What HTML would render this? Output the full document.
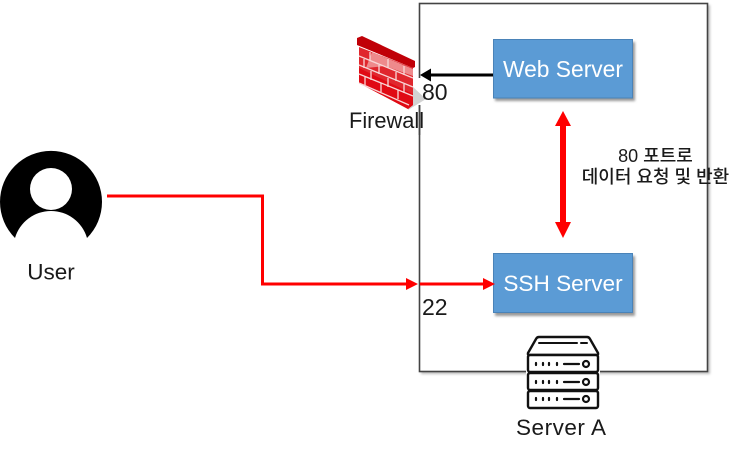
<!DOCTYPE html>
<html><head><meta charset="utf-8"><style>
html,body{margin:0;padding:0;background:#fff}
svg{display:block}
text{font-family:"Liberation Sans","Noto Sans CJK KR",sans-serif;fill:#1a1a1a}
</style></head><body>
<svg width="740" height="455" viewBox="0 0 740 455" xmlns="http://www.w3.org/2000/svg">
<defs><filter id="b" x="-10%" y="-10%" width="125%" height="130%"><feGaussianBlur stdDeviation="1.2"/></filter></defs>
<rect x="421" y="5" width="289" height="369" fill="#bbb" filter="url(#b)"/>
<rect x="419.5" y="3.5" width="288" height="368" fill="#fff" stroke="#444" stroke-width="1.6"/>
<rect x="495" y="42" width="140" height="59" fill="#999" filter="url(#b)"/>
<rect x="493.5" y="39.5" width="139" height="58.5" fill="#5b9bd5" stroke="#4a83b8"/>
<rect x="495" y="256" width="140" height="60" fill="#999" filter="url(#b)"/>
<rect x="493.5" y="253.5" width="139" height="59" fill="#5b9bd5" stroke="#4a83b8"/>
<text x="563" y="77" font-size="22.8" text-anchor="middle" style="fill:#fff">Web Server</text>
<text x="563" y="291" font-size="22.6" text-anchor="middle" style="fill:#fff">SSH Server</text>

<!-- firewall -->
<rect x="400" y="78" width="20.5" height="27" fill="#fff"/>
<polygon points="413,87 426,99 408,110" fill="#d2d2d2"/>
<polygon points="359,47 413,68 413,105 408,109 359,83" fill="#e0272e"/>
<polygon points="359,68 413,94 413,105 408,109 359,83" fill="#e00a14"/>
<polygon points="372,52 413,69 413,76 385,66 366,68" fill="#ee8a8c"/>
<g stroke="#f8d6d6" stroke-width="1.3" fill="none">
<path d="M359,56 L413,78 M359,65 L413,87 M359,74 L413,96 M359,83 L409,105"/>
<path d="M370,52 V61 M388,59 V68 M404,66 V75 M364,59 V68 M379,65 V74 M396,72 V81 M371,71 V80 M388,78 V87 M404,84 V93 M365,76 V85 M381,83 V92 M398,90 V99"/>
</g>
<polygon points="357,38 362,36 415,61 415,67 413,68 357,45" fill="#c00008"/>
<text x="349" y="128" font-size="21.8">Firewall</text>
<line x1="419.5" y1="105" x2="419.5" y2="135" stroke="#444" stroke-width="1.6"/>
<text x="422" y="100" font-size="23">80</text>
<text x="422" y="315" font-size="23">22</text>

<!-- web arrow -->
<line x1="493" y1="75" x2="428" y2="75" stroke="#000" stroke-width="3"/>
<polygon points="420,75 431,68.5 431,81.5" fill="#000"/>

<!-- double arrow -->
<line x1="563" y1="120" x2="563" y2="228" stroke="#f00" stroke-width="6"/>
<polygon points="563,111 571,126 555,126" fill="#f00"/>
<polygon points="563,238 571,222 555,222" fill="#f00"/>

<text x="655.5" y="162" font-size="18" font-weight="500" text-anchor="middle">80 포트로</text>
<text x="655.5" y="183" font-size="18" font-weight="500" text-anchor="middle">데이터 요청 및 반환</text>

<!-- user -->
<path d="M15,238 A51,51 0 1 1 87,238 A37.5,37.5 0 0 0 15,238 Z" fill="#000"/>
<circle cx="51" cy="189" r="21" fill="#fff"/>
<text x="51" y="279.5" font-size="22.5" text-anchor="middle">User</text>

<!-- red route -->
<path d="M107,196 H262.5 V284 H408" fill="none" stroke="#f00" stroke-width="3"/>
<polygon points="418,284 406,278 406,290" fill="#f00"/>
<line x1="420" y1="284" x2="486" y2="284" stroke="#f00" stroke-width="3"/>
<polygon points="495,284 483,278 483,290" fill="#f00"/>

<!-- server -->
<rect x="526" y="365" width="74" height="14" fill="#fff"/>
<g fill="#fff" stroke="#111" stroke-width="2.4" stroke-linejoin="round">
<path d="M539,337 H587 Q589,337 590,339 L598,353 Q598.5,355 597,355 H529 Q527.5,355 528,353 L536,339 Q537,337 539,337 Z"/>
<rect x="528" y="355" width="70" height="17" rx="2"/>
<rect x="528" y="373" width="70" height="17" rx="2"/>
<rect x="528" y="391" width="70" height="17" rx="2"/>
</g>
<path d="M539,343 H577 M581,343 H587" stroke="#111" stroke-width="2" stroke-linecap="round"/>
<g stroke="#111" stroke-width="2.2" fill="none" stroke-linecap="round">
<path d="M536,363 V365 M543,363 V365 M549,363 V365 M557,363 V365 M564,364 H579"/>
<circle cx="586" cy="364" r="3"/>
<path d="M536,381 V383 M543,381 V383 M549,381 V383 M557,381 V383 M564,382 H579"/>
<circle cx="586" cy="382" r="3"/>
<path d="M536,398 V400 M543,398 V400 M549,398 V400 M557,398 V400 M564,399 H579"/>
<circle cx="586" cy="399" r="3"/>
</g>
<text x="561" y="435" font-size="22.5" text-anchor="middle" textLength="90" lengthAdjust="spacing">Server A</text>
</svg>
</body></html>
